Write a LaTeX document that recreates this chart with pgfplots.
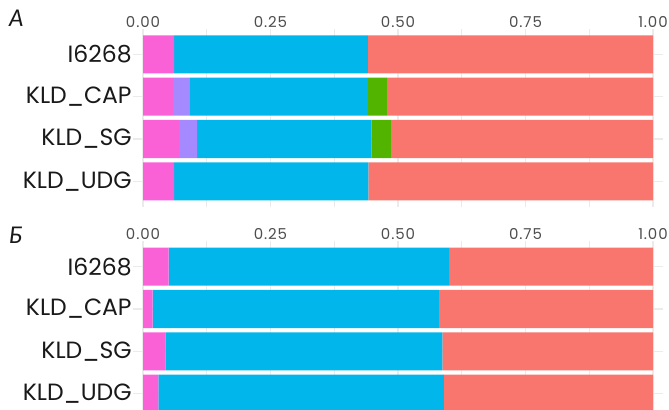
\documentclass[border=0pt]{standalone}
\usepackage{pgfplots}
\pgfplotsset{compat=1.18}
\usepackage{fontspec}
\setmainfont{Poppins}
\newfontfamily\letterfont{Lato}

\definecolor{cpink}{HTML}{FB61D7}
\definecolor{cpurple}{HTML}{A58AFF}
\definecolor{cblue}{HTML}{00B6EB}
\definecolor{cgreen}{HTML}{53B400}
\definecolor{cred}{HTML}{F8766D}
\definecolor{gridc}{HTML}{EBEBEB}
\definecolor{ticktext}{HTML}{4D4D4D}

\pgfplotsset{
  panel/.style={
    xbar stacked,
    bar width=0.9,
    scale only axis,
    width=530.4bp, height=177.7bp,
    xmin=-0.02, xmax=1.02,
    ymin=0.4, ymax=4.6,
    axis line style={draw=none},
    major tick length=0pt, minor tick length=0pt,
    xtick={0,0.25,0.5,0.75,1},
    xticklabels={0.00,0.25,0.50,0.75,1.00},
    minor xtick={0.125,0.375,0.625,0.875},
    xticklabel pos=upper,
    xticklabel style={anchor=base, inner sep=0pt, yshift=1.5bp,
      font=\fontsize{15bp}{17bp}\selectfont\addfontfeature{LetterSpace=6}, text=ticktext},
    ytick={1,2,3,4},
    yticklabels={KLD\_UDG,KLD\_SG,KLD\_CAP,I6268},
    yticklabel style={anchor=east, inner sep=0pt, xshift=-1bp,
      font=\fontsize{23.5bp}{26bp}\selectfont, text=black!90},
    grid=both,
    major grid style={gridc, line width=1.1bp},
    minor grid style={gridc, line width=0.55bp},
    every axis plot/.append style={draw=none},
  }
}

\begin{document}
\begin{tikzpicture}
% Panel A: proportions per sample
\begin{axis}[panel, at={(132.8bp,203.3bp)}, anchor=south west]
  \addplot[fill=cpink]   coordinates {(0.061,4) (0.059,3) (0.071,2) (0.061,1)};
  \addplot[fill=cpurple] coordinates {(0,4) (0.033,3) (0.035,2) (0,1)};
  \addplot[fill=cblue]   coordinates {(0.380,4) (0.349,3) (0.342,2) (0.381,1)};
  \addplot[fill=cgreen]  coordinates {(0,4) (0.037,3) (0.038,2) (0,1)};
  \addplot[fill=cred]    coordinates {(0.559,4) (0.522,3) (0.514,2) (0.558,1)};
\end{axis}
% Panel B
\begin{axis}[panel, at={(132.8bp,-9bp)}, anchor=south west]
  \addplot[fill=cpink]   coordinates {(0.050,4) (0.019,3) (0.044,2) (0.030,1)};
  \addplot[fill=cblue]   coordinates {(0.550,4) (0.561,3) (0.543,2) (0.560,1)};
  \addplot[fill=cred]    coordinates {(0.400,4) (0.420,3) (0.413,2) (0.410,1)};
\end{axis}
% panel letters
\node[anchor=base west, inner sep=0pt, font=\letterfont\itshape\fontsize{23bp}{25bp}\selectfont, text=black!90]
  at (9bp,410bp-27bp) {A};
\node[anchor=base west, inner sep=0pt, font=\letterfont\itshape\fontsize{23bp}{25bp}\selectfont, text=black!90]
  at (9bp,410bp-243.5bp) {Б};
\pgfresetboundingbox
\path[use as bounding box] (0,0) rectangle (669bp,410bp);
\end{tikzpicture}
\end{document}
